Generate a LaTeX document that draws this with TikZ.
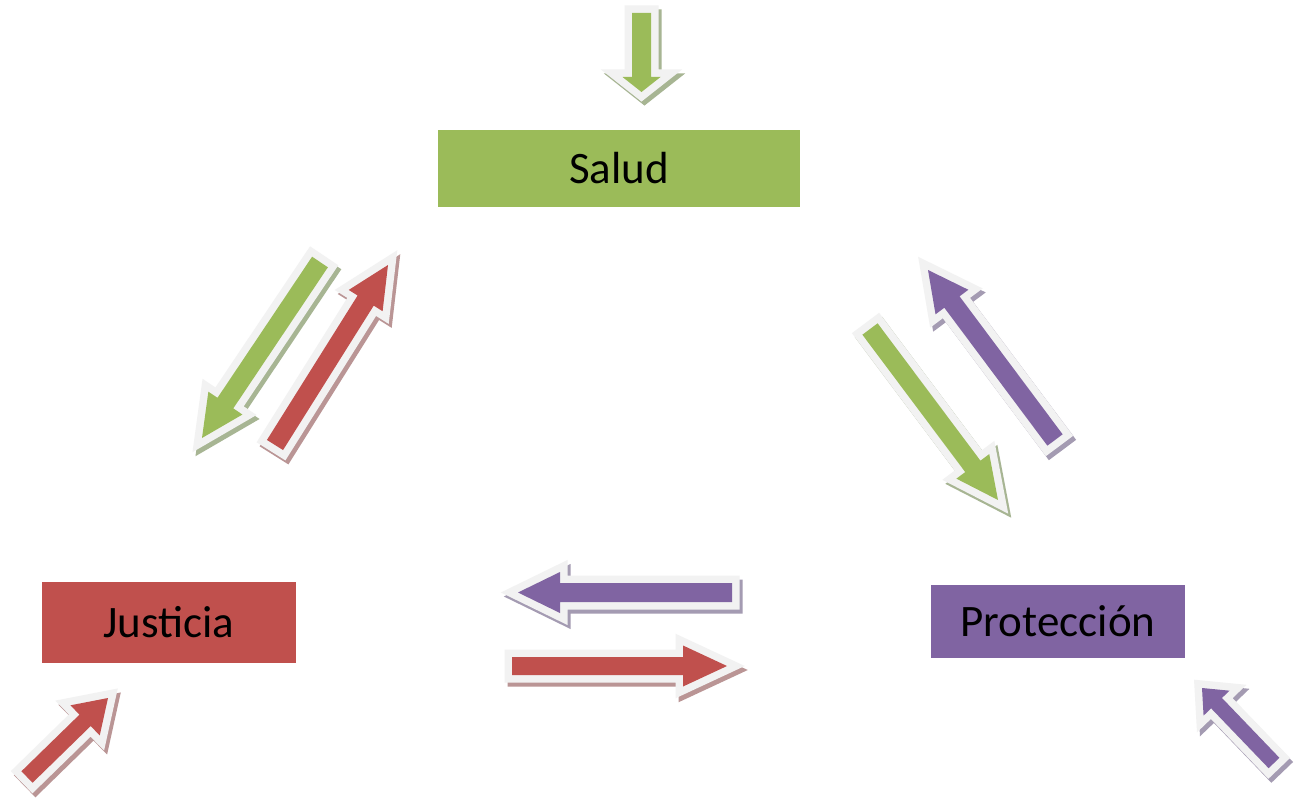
\documentclass[tikz,border=0pt]{standalone}
\usepackage{fontspec}
\setmainfont{Carlito}
\usetikzlibrary{calc}

\definecolor{sgreen}{HTML}{9BBB59}
\definecolor{sred}{HTML}{C0504D}
\definecolor{spurple}{HTML}{8064A2}
\definecolor{rimgray}{HTML}{F2F2F2}
\definecolor{gshadow}{HTML}{A7B593}
\definecolor{rshadow}{HTML}{BA9595}
\definecolor{pshadow}{HTML}{A49BB2}

\tikzset{
  rimline/.style={line width=15pt, line join=miter},
  areabox/.style={minimum height=#1, inner sep=0pt, text=black,
    font=\fontsize{45}{50}\selectfont},
}

% block arrow: #1 name, #2 tail, #3 tip, #4 shaft half-width,
% #5 head half-width, #6 head length, #7 fill, #8 shadow colour
\newcommand{\blockarrow}[8]{%
  \coordinate (#1-t) at #2;
  \coordinate (#1-p) at #3;
  \coordinate (#1-h) at ($(#1-p)!#6!(#1-t)$);
  \coordinate (#1-1) at ($(#1-t)!#4!90:(#1-p)$);
  \coordinate (#1-2) at ($(#1-h)!#4!90:(#1-p)$);
  \coordinate (#1-3) at ($(#1-h)!#5!90:(#1-p)$);
  \coordinate (#1-4) at ($(#1-h)!#5!-90:(#1-p)$);
  \coordinate (#1-5) at ($(#1-h)!#4!-90:(#1-p)$);
  \coordinate (#1-6) at ($(#1-t)!#4!-90:(#1-p)$);
  \begin{scope}[transform canvas={xshift=3pt,yshift=-4pt}]
    \path[rimline, fill=#8, draw=#8] (#1-1) -- (#1-2) -- (#1-3) -- (#1-p)
      -- (#1-4) -- (#1-5) -- (#1-6) -- cycle;
  \end{scope}
  \path[rimline, fill=rimgray, draw=rimgray] (#1-1) -- (#1-2) -- (#1-3) -- (#1-p)
    -- (#1-4) -- (#1-5) -- (#1-6) -- cycle;
  \path[fill=#7] (#1-1) -- (#1-2) -- (#1-3) -- (#1-p)
    -- (#1-4) -- (#1-5) -- (#1-6) -- cycle;
}

\begin{document}
\begin{tikzpicture}[x=1pt, y=-1pt]
  \fill[white] (0,0) rectangle (1296,800);
  \useasboundingbox (0,0) rectangle (1296,800);

  % incoming arrows
  \blockarrow{intop}{(641.5,13)}{(641.5,92)}{9.5pt}{19pt}{15pt}{sgreen}{gshadow}
  \blockarrow{injus}{(27,777)}{(108,698)}{8pt}{21pt}{32pt}{sred}{rshadow}
  \blockarrow{inpro}{(1274,763)}{(1202,688)}{7.5pt}{18pt}{21pt}{spurple}{pshadow}

  % Salud <-> Justicia
  \blockarrow{sj}{(320,262)}{(202,438)}{9.5pt}{20.5pt}{42pt}{sgreen}{gshadow}
  \blockarrow{js}{(275,445)}{(388,265)}{9.5pt}{20pt}{42pt}{sred}{rshadow}

  % Salud <-> Proteccion
  \blockarrow{sp}{(870,329)}{(998,500)}{9.5pt}{20.5pt}{42pt}{sgreen}{gshadow}
  \blockarrow{ps}{(1055,440)}{(928,270)}{9.5pt}{20.5pt}{40pt}{spurple}{pshadow}

  % Justicia <-> Proteccion
  \blockarrow{pj}{(732,592.5)}{(518,592.5)}{9.5pt}{20.5pt}{42pt}{spurple}{pshadow}
  \blockarrow{jp}{(512,666)}{(727,666)}{9pt}{20.5pt}{44pt}{sred}{rshadow}

  % the three areas
  \node[areabox=77pt, fill=sgreen, minimum width=362pt] (salud) at (619,168.5) {Salud};
  \node[areabox=81pt, fill=sred, minimum width=254pt] (justicia) at (169,622.5) {Justicia};
  \node[areabox=73pt, fill=spurple, minimum width=254pt] (proteccion) at (1058,621.5) {Protección};
\end{tikzpicture}
\end{document}
